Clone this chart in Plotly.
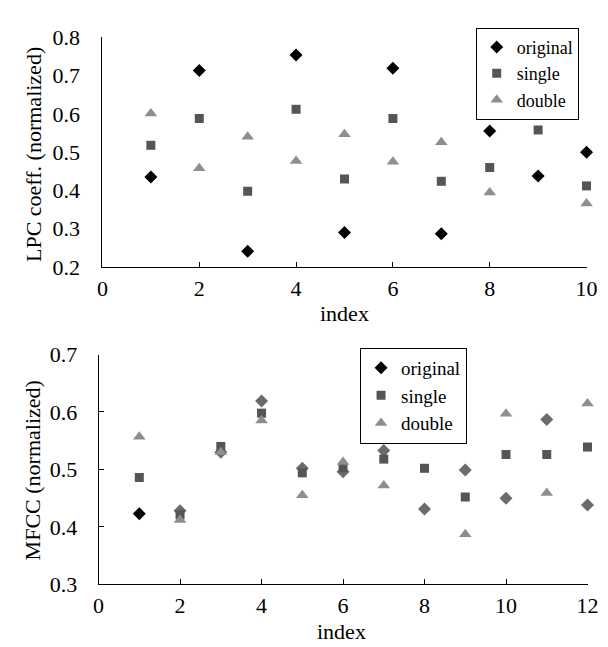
import plotly.graph_objects as go

# ---- LPC (top) ----
lpc_index = [1, 2, 3, 4, 5, 6, 7, 8, 9, 10]
lpc_original = [0.435, 0.713, 0.241, 0.754, 0.290, 0.719, 0.287, 0.555, 0.438, 0.500]
lpc_single = [0.518, 0.588, 0.398, 0.612, 0.430, 0.588, 0.424, 0.460, 0.558, 0.412]
lpc_double = [0.601, 0.458, 0.540, 0.477, 0.547, 0.475, 0.526, 0.395, 0.612, 0.366]

# ---- MFCC (bottom) ----
mfcc_index = [1, 2, 3, 4, 5, 6, 7, 8, 9, 10, 11, 12]
mfcc_original = [0.423, 0.428, 0.530, 0.619, 0.502, 0.496, 0.533, 0.431, 0.499, 0.450, 0.587, 0.438]
mfcc_single = [0.486, 0.421, 0.540, 0.598, 0.494, 0.503, 0.518, 0.502, 0.452, 0.526, 0.526, 0.539]
mfcc_double = [0.557, 0.412, 0.530, 0.585, 0.455, 0.513, 0.472, 0.563, 0.387, 0.597, 0.459, 0.615]

series_names = ["original", "single", "double"]

FONT = "Liberation Serif"
C_BLACK = "#000000"
C_ORIG2 = "#6b6b6b"
C_SINGLE = "#555555"
C_DOUBLE = "#8e8e8e"

W, H = 608, 647

def px_x(p):
    return p / W

def px_y(p):
    return 1 - p / H

fig = go.Figure()

D_SIZE, S_SIZE, T_SIZE = 10, 9, 11

# top
fig.add_trace(go.Scatter(x=lpc_index, y=lpc_original, mode="markers", name=series_names[0],
                         marker=dict(symbol="diamond", size=D_SIZE, color=C_BLACK),
                         xaxis="x", yaxis="y", legend="legend", cliponaxis=False))
fig.add_trace(go.Scatter(x=lpc_index, y=lpc_single, mode="markers", name=series_names[1],
                         marker=dict(symbol="square", size=S_SIZE, color=C_SINGLE),
                         xaxis="x", yaxis="y", legend="legend", cliponaxis=False))
fig.add_trace(go.Scatter(x=lpc_index, y=lpc_double, mode="markers", name=series_names[2],
                         marker=dict(symbol="triangle-up", size=T_SIZE, color=C_DOUBLE),
                         xaxis="x", yaxis="y", legend="legend", cliponaxis=False))

# bottom
orig_colors = [C_BLACK] + [C_ORIG2] * (len(mfcc_index) - 1)
fig.add_trace(go.Scatter(x=mfcc_index, y=mfcc_original, mode="markers", name=series_names[0],
                         marker=dict(symbol="diamond", size=D_SIZE, color=orig_colors),
                         xaxis="x2", yaxis="y2", legend="legend2", cliponaxis=False))
fig.add_trace(go.Scatter(x=mfcc_index, y=mfcc_single, mode="markers", name=series_names[1],
                         marker=dict(symbol="square", size=S_SIZE, color=C_SINGLE),
                         xaxis="x2", yaxis="y2", legend="legend2", cliponaxis=False))
fig.add_trace(go.Scatter(x=mfcc_index, y=mfcc_double, mode="markers", name=series_names[2],
                         marker=dict(symbol="triangle-up", size=T_SIZE, color=C_DOUBLE),
                         xaxis="x2", yaxis="y2", legend="legend2", cliponaxis=False))

axis_common = dict(showgrid=False, zeroline=False, showline=True, linecolor="black",
                   linewidth=1, tickfont=dict(family=FONT, size=22, color="black"),
                   ticklen=5, tickcolor="black")

legend_common = dict(xanchor="left", yanchor="top", bordercolor="black", borderwidth=1,
                     bgcolor="white", itemwidth=30, tracegroupgap=0)

fig.update_layout(
    width=W, height=H,
    margin=dict(l=0, r=0, t=0, b=0),
    paper_bgcolor="white", plot_bgcolor="white",
    font=dict(family=FONT, size=22, color="black"),
    xaxis=dict(domain=[px_x(91), px_x(589)], range=[0, 10], dtick=2, ticks="inside",
               ticklabelstandoff=2, anchor="y", **axis_common),
    yaxis=dict(domain=[px_y(257), px_y(18)], range=[0.2, 0.8], dtick=0.1, tickformat=".1f",
               ticks="", ticklabelstandoff=17, anchor="x", **axis_common),
    xaxis2=dict(domain=[px_x(87), px_x(590)], range=[0, 12], dtick=2, ticks="inside",
                ticklabelstandoff=1, anchor="y2", **axis_common),
    yaxis2=dict(domain=[px_y(587), px_y(348)], range=[0.3, 0.7], dtick=0.1, tickformat=".1f",
                ticks="inside", ticklabelstandoff=16, anchor="x2", **axis_common),
    legend=dict(x=px_x(475), y=px_y(8), font=dict(family=FONT, size=18, color="black"),
                **legend_common),
    legend2=dict(x=px_x(356), y=px_y(341), font=dict(family=FONT, size=19, color="black"),
                 **legend_common),
    showlegend=True,
)

ann_font = dict(family=FONT, size=22, color="black")
fig.add_annotation(text="index", x=px_x(340), y=px_y(305), xref="paper", yref="paper",
                   xanchor="center", yanchor="middle", showarrow=False, font=ann_font)
fig.add_annotation(text="index", x=px_x(337), y=px_y(636), xref="paper", yref="paper",
                   xanchor="center", yanchor="middle", showarrow=False, font=ann_font)
fig.add_annotation(text="LPC coeff. (normalized)", x=px_x(20), y=px_y(140), xref="paper",
                   yref="paper", xanchor="center", yanchor="middle", showarrow=False,
                   textangle=-90, font=ann_font)
fig.add_annotation(text="MFCC (normalized)", x=px_x(19), y=px_y(468), xref="paper",
                   yref="paper", xanchor="center", yanchor="middle", showarrow=False,
                   textangle=-90, font=ann_font)

fig.write_html("out.html")
